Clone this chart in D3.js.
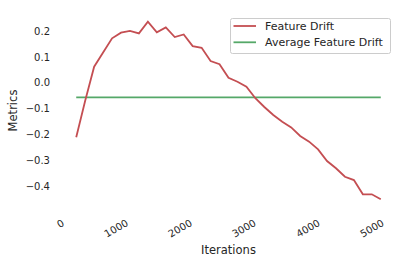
<!DOCTYPE html>
<html>
<head>
<meta charset="utf-8">
<script src="https://cdn.jsdelivr.net/npm/d3@7"></script>
<style>
  body { margin: 0; background: #fff; }
  text { font-family: "DejaVu Sans", sans-serif; fill: #262626; }
</style>
</head>
<body>
<div id="chart"></div>
<script>
// values
const iterations = d3.range(35).map(i => 200 + i * 140);
const featureDrift = [
  -0.211, -0.07, 0.062, 0.117, 0.172, 0.194, 0.201, 0.191, 0.236, 0.195,
  0.214, 0.177, 0.187, 0.142, 0.135, 0.084, 0.072, 0.019, 0.004, -0.015,
  -0.060, -0.094, -0.125, -0.151, -0.173, -0.206, -0.228, -0.258, -0.303, -0.331,
  -0.364, -0.377, -0.432, -0.432, -0.451
];
const averageDrift = -0.057;
const xTicks = [0, 1000, 2000, 3000, 4000, 5000];
const yTicks = [0.2, 0.1, 0.0, -0.1, -0.2, -0.3, -0.4];
const seriesNames = ['Feature Drift', 'Average Feature Drift'];
const seriesColors = ['#c44e52', '#55a868'];

const w = 408;
const h = 265;
const margin = { top: 13, right: 12, bottom: 57, left: 61 };

const svg = d3.select('#chart')
  .append('svg')
  .attr('width', w)
  .attr('height', h)

const xScale = d3.scaleLinear()
  .domain([-38, 5198])
  .range([margin.left, w - margin.right])

const yScale = d3.scaleLinear()
  .domain([-0.485, 0.27])
  .range([h - margin.bottom, margin.top])

const data = iterations.map((it, i) => ({ it: it, v: featureDrift[i] }));

const line = d3.line()
  .x(d => xScale(d.it))
  .y(d => yScale(d.v))

// average line
svg.append('path')
  .datum(data.map(d => ({ it: d.it, v: averageDrift })))
  .attr('d', line)
  .attr('fill', 'none')
  .attr('stroke', seriesColors[1])
  .attr('stroke-width', 1.8)

svg.append('path')
  .datum(data)
  .attr('d', line)
  .attr('fill', 'none')
  .attr('stroke', seriesColors[0])
  .attr('stroke-width', 1.8)

// axes (no domain lines, no tick marks)
const xAxis = d3.axisBottom(xScale).tickValues(xTicks).tickSize(0).tickFormat(d3.format('d'));
const yAxis = d3.axisLeft(yScale).tickValues(yTicks).tickSize(0)
  .tickFormat(d => d3.format('.1f')(d).replace('-', '\u2212'));

const gx = svg.append('g')
  .attr('transform', 'translate(0,' + (h - margin.bottom) + ')')
  .call(xAxis)
gx.select('.domain').remove();
gx.selectAll('text')
  .attr('font-size', 10)
  .attr('font-family', 'DejaVu Sans')
  .attr('fill', '#262626')
  .attr('text-anchor', 'end')
  .attr('y', 0)
  .attr('dy', 0)
  .attr('transform', 'translate(1,17) rotate(-30)')

const gy = svg.append('g')
  .attr('transform', 'translate(' + margin.left + ',0)')
  .call(yAxis)
gy.select('.domain').remove();
gy.selectAll('text')
  .attr('font-size', 10)
  .attr('font-family', 'DejaVu Sans')
  .attr('fill', '#262626')
  .attr('x', -11)

// axis labels
svg.append('text')
  .attr('x', (margin.left + w - margin.right) / 2)
  .attr('y', 254)
  .attr('text-anchor', 'middle')
  .attr('font-size', 11.5)
  .text('Iterations')

svg.append('text')
  .attr('transform', 'translate(17,' + ((margin.top + h - margin.bottom) / 2) + ') rotate(-90)')
  .attr('text-anchor', 'middle')
  .attr('font-size', 11.5)
  .text('Metrics')

// legend
const legend = svg.append('g')
legend.append('rect')
  .attr('x', 230.5)
  .attr('y', 18.5)
  .attr('width', 160)
  .attr('height', 35)
  .attr('rx', 2)
  .attr('fill', 'white')
  .attr('fill-opacity', 0.8)
  .attr('stroke', '#cccccc')

seriesNames.forEach((name, i) => {
  const y = 26 + i * 16.3;
  legend.append('line')
    .attr('x1', 233.5)
    .attr('x2', 256)
    .attr('y1', y)
    .attr('y2', y)
    .attr('stroke', seriesColors[i])
    .attr('stroke-width', 1.8)
  legend.append('text')
    .attr('x', 265)
    .attr('y', y + 4)
    .attr('font-size', 11)
    .text(name)
})
</script>
</body>
</html>
